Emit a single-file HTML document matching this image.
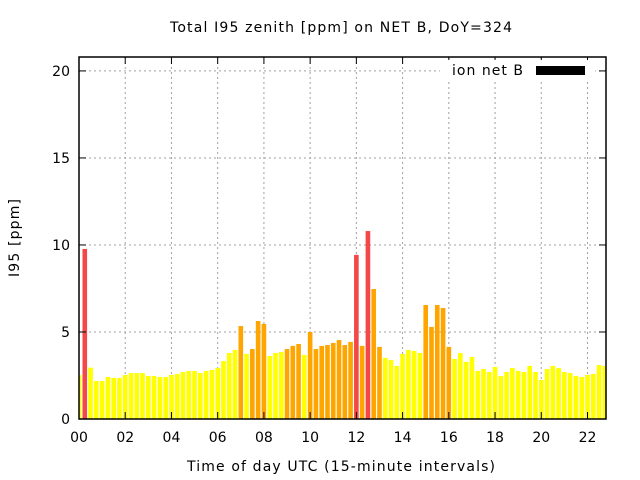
<!DOCTYPE html>
<html><head><meta charset="utf-8">
<style>html,body{margin:0;padding:0;background:#fff}svg{display:block;font-family:"DejaVu Sans","Liberation Sans",sans-serif}</style>
</head><body>
<svg id="chart" width="640" height="480" viewBox="0 0 640 480">
<text x="341" y="32" text-anchor="middle" font-size="14" textLength="342" lengthAdjust="spacing">Total I95 zenith [ppm] on NET B, DoY=324</text>
<text transform="translate(19,238) rotate(-90)" text-anchor="middle" font-size="14" textLength="78" lengthAdjust="spacing">I95 [ppm]</text>
<text x="341" y="471" text-anchor="middle" font-size="14" textLength="308" lengthAdjust="spacing">Time of day UTC (15-minute intervals)</text>
<g id="grid"></g><g id="bars"></g><g id="axes"></g>
<g>
<rect x="440" y="60" width="155" height="20" fill="#fff"/>
<text x="523" y="75" text-anchor="end" font-size="14" textLength="71" lengthAdjust="spacing">ion net B</text>
<rect x="536" y="66" width="49" height="9" fill="#000"/>
</g>
</svg>
<script>
const values = [2.53,9.77,2.95,2.18,2.18,2.41,2.36,2.36,2.53,2.64,2.64,2.64,2.47,2.47,2.41,2.41,2.53,2.59,2.70,2.76,2.76,2.64,2.76,2.82,2.93,3.33,3.79,3.97,5.34,3.74,
4.02,5.63,5.46,3.62,3.79,3.85,4.02,4.20,4.31,3.68,5.0,4.02,4.20,4.25,4.37,4.54,4.25,4.43,9.43,4.20,10.80,7.47,4.14,3.51,3.39,3.05,3.74,3.97,3.91,3.79,
6.55,5.29,6.55,6.38,4.14,3.45,3.79,3.28,3.56,2.76,2.87,2.70,2.99,2.47,2.70,2.93,2.76,2.70,3.05,2.70,2.24,2.87,3.05,2.93,2.70,2.64,2.47,2.41,2.53,2.59,3.10,3.05];
const yTicks = [0,5,10,15,20];
const xTicks = [0,2,4,6,8,10,12,14,16,18,20,22];
const xTickLabels = ["00","02","04","06","08","10","12","14","16","18","20","22"];
const L=79,R=606,T=57,B=419;
const xMin=0,xMax=22.8,yMin=0,yMax=20.8;
const sx=h=>L+(h-xMin)/(xMax-xMin)*(R-L);
const sy=v=>B-(v-yMin)/(yMax-yMin)*(B-T);
const NS="http://www.w3.org/2000/svg";
function mk(tag,attrs,parent){const e=document.createElementNS(NS,tag);for(const k in attrs)e.setAttribute(k,attrs[k]);parent.appendChild(e);return e;}
const grid=document.getElementById('grid'),bars=document.getElementById('bars'),axes=document.getElementById('axes');
const cp=mk('clipPath',{id:'clip'},document.getElementById('chart'));mk('rect',{x:L,y:T,width:R-L,height:B-T},cp);
bars.setAttribute('clip-path','url(#clip)');
yTicks.forEach(v=>{
  const y=sy(v);
  const g=mk('line',{x1:L,x2:R,y1:y,y2:y,stroke:'#a0a0a0','stroke-dasharray':'2,3'},grid);
  
  
  mk('line',{x1:L,x2:L+7,y1:y,y2:y,stroke:'#000'},axes);
  mk('line',{x1:R,x2:R-7,y1:y,y2:y,stroke:'#000'},axes);
  const t=mk('text',{x:L-9,y:y+5,'text-anchor':'end','font-size':'14'},axes);t.textContent=v;
  
  
});
xTicks.forEach((h,i)=>{
  const x=sx(h);
  if(i>0){const g=mk('line',{x1:x,x2:x,y1:T,y2:B,stroke:'#a0a0a0','stroke-dasharray':'2,3'},grid);
  
  }
  mk('line',{x1:x,x2:x,y1:B,y2:B-7,stroke:'#000'},axes);
  mk('line',{x1:x,x2:x,y1:T,y2:T+7,stroke:'#000'},axes);
  const t=mk('text',{x:x,y:442,'text-anchor':'middle','font-size':'14'},axes);t.textContent=xTickLabels[i];
  
  
});
values.forEach((v,i)=>{
  const h=i*0.25,w=0.2;
  const x0=sx(h-w/2),x1=sx(h+w/2);
  const col=v>=8?'#f44848':(v>=4?'#ffa500':'#ffff00');
  const r=mk('rect',{x:x0,y:sy(v),width:x1-x0,height:B-sy(v),fill:col},bars);
  
  
});
const f=mk('rect',{x:L,y:T,width:R-L,height:B-T,fill:'none',stroke:'#000','stroke-width':'1.5'},axes);


</script>
</body></html>
